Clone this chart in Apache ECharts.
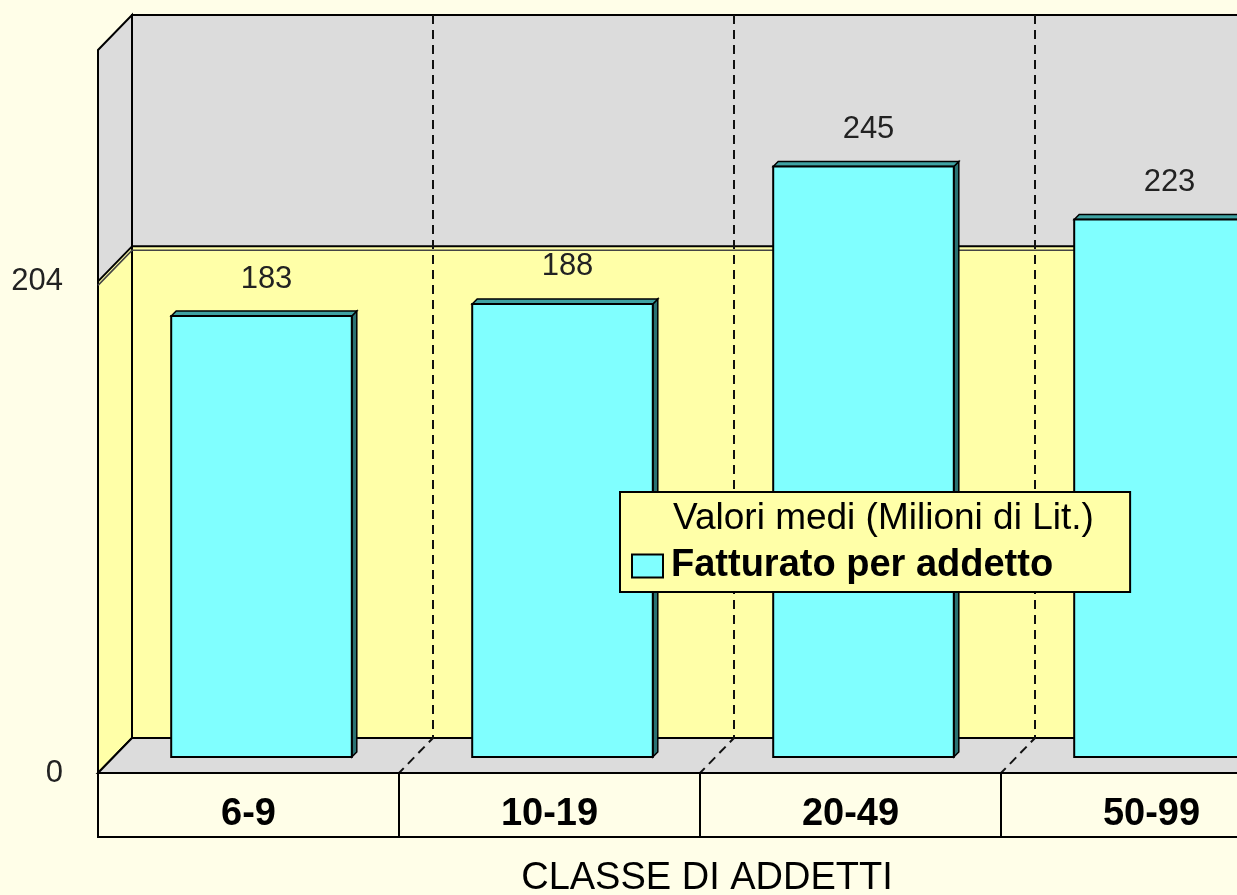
<!DOCTYPE html>
<html><head><meta charset="utf-8">
<script src="https://cdn.jsdelivr.net/npm/echarts@6/dist/echarts.min.js"></script>
<style>html,body{margin:0;padding:0;background:#FFFEE8}#c{width:1237px;height:895px}</style>
</head><body><div id="c"></div>
<script>
const categories = ['6-9', '10-19', '20-49', '50-99'];
const values = [183, 188, 245, 223];
const yTickValues = [0, 204];
const bandValue = 204;
const axisMax = 300;
const seriesName = 'Fatturato per addetto';
const legendTitle = 'Valori medi (Milioni di Lit.)';
const xAxisName = 'CLASSE DI ADDETTI';

const DX = 34, DY = 35;   // wall depth
const BX = 13, BY = 16;   // bar depth position
const BT = 5;             // bar thickness
const FONT = '"Liberation Sans", Arial, sans-serif';
const GREY = '#DCDCDC', YEL = '#FFFFA8', BG = '#FFFEE8';

function renderWalls(params, api) {
  const cs = params.coordSys;
  const xl = cs.x, xr = cs.x + cs.width, yt = cs.y;
  const y0 = api.coord([0, 0])[1];
  const yb = api.coord([0, bandValue])[1];
  const catW = api.size([1, 0])[0];
  const k = '#000';
  const ch = [];
  ch.push({type: 'rect', shape: {x: xl + DX, y: yt - DY, width: cs.width, height: y0 - yt}, style: {fill: GREY, stroke: k, lineWidth: 2}});
  ch.push({type: 'rect', shape: {x: xl + DX, y: yb - DY, width: cs.width, height: y0 - yb}, style: {fill: YEL, stroke: k, lineWidth: 2}});
  ch.push({type: 'polygon', shape: {points: [[xl, yt], [xl + DX, yt - DY], [xl + DX, y0 - DY], [xl, y0]]}, style: {fill: GREY, stroke: k, lineWidth: 2}});
  ch.push({type: 'polygon', shape: {points: [[xl, yb], [xl + DX, yb - DY], [xl + DX, y0 - DY], [xl, y0]]}, style: {fill: YEL, stroke: k, lineWidth: 2}});
  ch.push({type: 'polygon', shape: {points: [[xl, y0], [xl + DX, y0 - DY], [xr + DX, y0 - DY], [xr, y0]]}, style: {fill: GREY, stroke: k, lineWidth: 2}});
  ch.push({type: 'polyline', shape: {points: [[xl, yb + 4], [xl + DX, yb - DY + 4], [xr + DX, yb - DY + 4]]}, style: {stroke: '#444', lineWidth: 1.5, fill: null}});
  for (let i = 1; i <= categories.length; i++) {
    const bx = xl + i * catW;
    ch.push({type: 'polyline', shape: {points: [[bx + DX, yt - DY], [bx + DX, y0 - DY], [bx, y0]]}, style: {stroke: '#111', lineWidth: 2, lineDash: [9, 6], fill: null}});
  }
  ch.push({type: 'rect', shape: {x: xl, y: y0, width: cs.width, height: 64}, style: {fill: BG, stroke: k, lineWidth: 2}});
  for (let i = 1; i <= categories.length; i++) {
    const bx = xl + i * catW;
    ch.push({type: 'line', shape: {x1: bx, y1: y0, x2: bx, y2: y0 + 64}, style: {stroke: k, lineWidth: 2}});
  }
  return {type: 'group', children: ch};
}

function renderBar(params, api) {
  const i = api.value(0), v = api.value(1);
  const p0 = api.coord([i, 0]), p1 = api.coord([i, v]);
  const w = api.size([1, 0])[0] * 0.6;
  const x0 = p0[0] - w / 2 + BX, x1 = x0 + w, yb = p0[1] - BY, yt = p1[1] - BY;
  return {type: 'group', children: [
    {type: 'polygon', shape: {points: [[x1, yt], [x1 + BT, yt - BT], [x1 + BT, yb - BT], [x1, yb]]}, style: {fill: '#2A7272', stroke: '#000', lineWidth: 1.5}},
    {type: 'polygon', shape: {points: [[x0, yt], [x0 + BT, yt - BT], [x1 + BT, yt - BT], [x1, yt]]}, style: {fill: '#3FA3A3', stroke: '#000', lineWidth: 1.5}},
    {type: 'rect', shape: {x: x0, y: yt, width: w, height: yb - yt}, style: {fill: api.visual('color'), stroke: '#000', lineWidth: 2}},
    {type: 'text', style: {text: String(v), x: (x0 + x1) / 2 + 5, y: yt - 37, align: 'center', verticalAlign: 'middle', fontSize: 31, fontFamily: FONT, fill: '#222'}}
  ]};
}

const chart = echarts.init(document.getElementById('c'));
chart.setOption({
  backgroundColor: BG,
  animation: false,
  grid: {left: 98, width: 1204, top: 50, height: 723, outerBoundsMode: 'none', containLabel: false},
  title: {text: legendTitle, left: 668, top: 495, textStyle: {fontSize: 37, fontWeight: 'normal', fontFamily: FONT, color: '#000'}, z: 10},
  legend: {
    left: 620, top: 492, padding: [55, 77, 7, 11],
    backgroundColor: YEL, borderColor: '#000', borderWidth: 2, z: 9,
    itemWidth: 31, itemHeight: 23,
    textStyle: {fontSize: 38, fontWeight: 'bold', fontFamily: FONT, color: '#000', lineHeight: 36, padding: [0, 0, 0, 3]},
    data: [{name: seriesName, icon: 'rect', itemStyle: {borderColor: '#000', borderWidth: 2}}]
  },
  xAxis: {
    type: 'category', data: categories, z: 5,
    axisLine: {show: false}, axisTick: {show: false}, splitLine: {show: false},
    axisLabel: {margin: 23, fontSize: 38, fontWeight: 'bold', fontFamily: FONT, color: '#000'},
    name: xAxisName, nameLocation: 'middle', nameGap: 87,
    nameTextStyle: {fontSize: 38, fontFamily: FONT, color: '#000', padding: [0, 0, 0, 14]}
  },
  yAxis: {
    type: 'value', min: 0, max: axisMax, interval: bandValue, z: 5,
    axisLine: {show: false}, axisTick: {show: false}, splitLine: {show: false},
    axisLabel: {margin: 35, fontSize: 31, fontFamily: FONT, color: '#222',
      formatter: v => yTickValues.indexOf(v) >= 0 ? String(v) : ''}
  },
  series: [
    {type: 'custom', name: '_walls', silent: true, clip: false, z: 1, data: [[0, 0]], renderItem: renderWalls},
    {type: 'custom', name: seriesName, clip: false, z: 2, itemStyle: {color: '#80FFFF'},
     data: values.map((v, i) => [i, v]), renderItem: renderBar}
  ]
});
</script></body></html>
